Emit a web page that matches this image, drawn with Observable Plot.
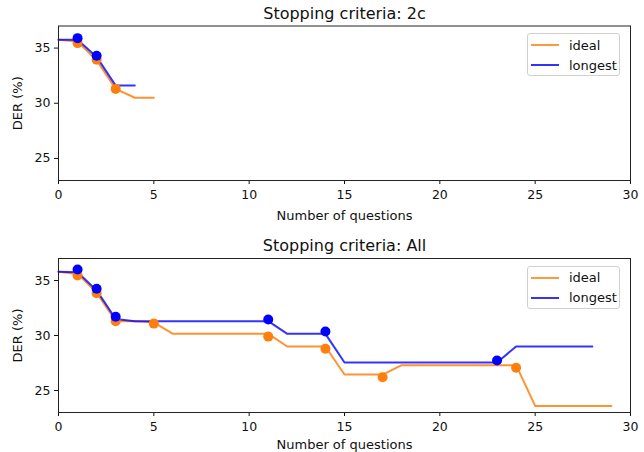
<!DOCTYPE html>
<html><head><meta charset="utf-8">
<script src="https://cdn.jsdelivr.net/npm/d3@7"></script>
<script src="https://cdn.jsdelivr.net/npm/@observablehq/plot@0.6"></script>
<style>
body{margin:0;background:#fff;font-family:"DejaVu Sans",sans-serif}
#wrap{position:relative;width:644px;height:452px;overflow:hidden;background:#fff}
.panel{position:absolute;left:0;width:644px}
.legend{position:absolute;left:527px;width:93px;height:43px;border:1px solid #d0d0d0;border-radius:3px;background:rgba(255,255,255,0.8);box-sizing:border-box;font-size:13px;color:#111}
.row{position:absolute;left:3px;height:20px;display:flex;align-items:center}
.sw{width:28px;height:2px;margin-right:10px}
</style>
</head><body>
<div id="wrap"></div>
<script>
// ---- data ----
const titles = ["Stopping criteria: 2c", "Stopping criteria: All"];
const seriesNames = ["ideal", "longest"];
const seriesColors = ["#ff7f0e", "#0000ff"];
const xTicks = [0, 5, 10, 15, 20, 25, 30];
const yTicks = [25, 30, 35];

// panel 1 (2c)
const topIdealQ = [0, 1, 2, 3, 4, 5];
const topIdealDer = [35.75, 35.6, 33.9, 31.3, 30.5, 30.5];
const topLongestQ = [0, 1, 2, 3, 4];
const topLongestDer = [35.75, 35.75, 34.2, 31.6, 31.6];
const topIdealDotQ = [1, 2, 3];
const topIdealDotDer = [35.45, 33.95, 31.3];
const topLongestDotQ = [1, 2];
const topLongestDotDer = [35.9, 34.3];

// panel 2 (All)
const allIdealQ = [0,1,2,3,4,5,6,7,8,9,10,11,12,13,14,15,16,17,18,19,20,21,22,23,24,25,26,27,28,29];
const allIdealDer = [35.8,35.6,33.9,31.3,31.3,31.2,30.15,30.15,30.15,30.15,30.15,30.15,29.0,29.0,29.0,26.45,26.45,26.45,27.3,27.3,27.3,27.3,27.3,27.3,27.3,23.6,23.6,23.6,23.6,23.6];
const allLongestQ = [0,1,2,3,4,5,6,7,8,9,10,11,12,13,14,15,16,17,18,19,20,21,22,23,24,25,26,27,28];
const allLongestDer = [35.8,35.75,34.1,31.5,31.3,31.3,31.3,31.3,31.3,31.3,31.3,31.3,30.15,30.15,30.15,27.55,27.55,27.55,27.55,27.55,27.55,27.55,27.55,27.55,29.0,29.0,29.0,29.0,29.0];
const allIdealDotQ = [1, 2, 3, 5, 11, 14, 17, 24];
const allIdealDotDer = [35.45, 33.85, 31.3, 31.08, 29.9, 28.8, 26.2, 27.07];
const allLongestDotQ = [1, 2, 3, 11, 14, 23];
const allLongestDotDer = [36.0, 34.25, 31.7, 31.45, 30.37, 27.72];

const rows = (qs, vs) => qs.map((q, i) => ({q, der: vs[i]}));

const panels = [
  {title: titles[0], top: 0, mt: 25.5, mb: 46, titleDy: -12, xLabelOffset: 39,
   ideal: rows(topIdealQ, topIdealDer), longest: rows(topLongestQ, topLongestDer),
   idealDots: rows(topIdealDotQ, topIdealDotDer), longestDots: rows(topLongestDotQ, topLongestDotDer)},
  {title: titles[1], top: 226, mt: 32, mb: 40, titleDy: -13, xLabelOffset: 36,
   ideal: rows(allIdealQ, allIdealDer), longest: rows(allLongestQ, allLongestDer),
   idealDots: rows(allIdealDotQ, allIdealDotDer), longestDots: rows(allLongestDotQ, allLongestDotDer)}
];

const wrap = document.getElementById("wrap");
const FONT = '"DejaVu Sans",sans-serif';

panels.forEach(p => {
  const chart = Plot.plot({
    width: 644, height: 226,
    marginTop: p.mt, marginBottom: p.mb, marginLeft: 58, marginRight: 14,
    style: {fontFamily: FONT, fontSize: "12.5px", background: "white", color: "#111"},
    x: {domain: [0, 30]},
    y: {domain: [23, 37]},
    marks: [
      Plot.line(p.ideal, {x: "q", y: "der", stroke: seriesColors[0], strokeWidth: 2, strokeOpacity: 0.85}),
      Plot.line(p.longest, {x: "q", y: "der", stroke: seriesColors[1], strokeWidth: 2, strokeOpacity: 0.8}),
      Plot.dot(p.idealDots, {x: "q", y: "der", r: 5, fill: seriesColors[0], stroke: "none"}),
      Plot.dot(p.longestDots, {x: "q", y: "der", r: 5, fill: seriesColors[1], stroke: "none"}),
      Plot.axisX({ticks: xTicks, tickSize: 4, tickPadding: 6, fontSize: 12.5, tickFormat: d => d,
        label: null}),
      Plot.axisX({ticks: [], tickSize: 0, fontSize: 13,
        label: "Number of questions", labelAnchor: "center", labelArrow: "none", labelOffset: p.xLabelOffset}),
      Plot.axisY({ticks: yTicks, tickSize: 4, tickPadding: 4, fontSize: 12.5,
        label: null}),
      Plot.axisY({ticks: [], tickSize: 0, fontSize: 13,
        label: "DER (%)", labelAnchor: "center", labelArrow: "none", labelOffset: 46}),
      Plot.frame({stroke: "#222", strokeWidth: 1}),
      Plot.text([p.title], {frameAnchor: "top", dy: p.titleDy, fontSize: 16, fill: "#111", lineAnchor: "middle"})
    ]
  });
  const div = document.createElement("div");
  div.className = "panel";
  div.style.top = p.top + "px";
  div.appendChild(chart);
  wrap.appendChild(div);

  const lg = document.createElement("div");
  lg.className = "legend";
  lg.style.top = (p.top + p.mt + 7.5) + "px";
  seriesNames.forEach((name, i) => {
    const r = document.createElement("div");
    r.className = "row";
    r.style.top = (1 + i * 20) + "px";
    const sw = document.createElement("div");
    sw.className = "sw";
    sw.style.background = seriesColors[i];
    sw.style.opacity = 0.8;
    const t = document.createElement("span");
    t.textContent = name;
    r.appendChild(sw); r.appendChild(t);
    lg.appendChild(r);
  });
  wrap.appendChild(lg);
});
</script>
</body></html>
